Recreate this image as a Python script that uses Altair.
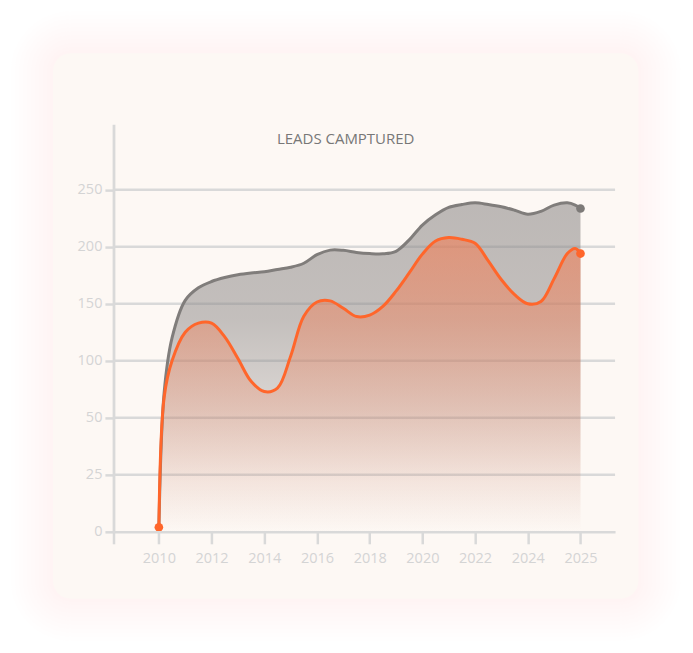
import altair as alt
import pandas as pd

# ---- data ----
x_labels = ["2010", "2012", "2014", "2016", "2018", "2020", "2022", "2024", "2025"]
positions = [0, 0.1, 0.25, 0.5, 0.75, 1, 1.25, 1.5, 1.75, 2, 2.25, 2.5, 2.75, 3, 3.25,
             3.5, 3.75, 4, 4.25, 4.5, 4.75, 5, 5.25, 5.5, 5.75, 6, 6.25, 6.5, 6.75, 7,
             7.25, 7.5, 7.75, 7.9, 8]
gray_values = [1, 72, 120, 153, 164, 169.5, 173, 175.5, 177, 178, 180, 182, 185.5, 193, 197,
               196.8, 195, 194, 193.8, 196, 206, 219, 228, 234.5, 237, 238.5, 237, 235, 232, 228.5,
               231, 236.5, 238.5, 236.5, 233.5]
orange_values = [2, 68, 100, 125, 133, 133, 121, 102, 82, 73, 76, 104, 139, 151.5, 152.5,
                 146, 138.8, 140, 147.6, 161, 177, 193.5, 205, 208, 206.5, 203, 187.5, 171, 158, 150,
                 152, 172, 194, 198.5, 194]
y_ticks = [0, 25, 50, 100, 150, 200, 250]
title_text = "LEADS CAMPTURED"

W, H = 502, 408
FONT = "Open Sans"

rows = []
for p, g, o in zip(positions, gray_values, orange_values):
    rows.append({"pos": p, "value": g, "series": "gray"})
    rows.append({"pos": p, "value": o, "series": "orange"})
df = pd.DataFrame(rows)

ends = pd.DataFrame([
    {"pos": positions[0], "value": orange_values[0], "series": "orange"},
    {"pos": positions[-1], "value": gray_values[-1], "series": "gray"},
    {"pos": positions[-1], "value": orange_values[-1], "series": "orange"},
])
grid_df = pd.DataFrame({"value": y_ticks[1:]})

x_min, x_max = -0.8607, 8.656
xscale = alt.Scale(domain=[x_min, x_max], nice=False, zero=False)
step = 57.07
yscale = alt.Scale(
    domain=y_ticks + [307.4],
    range=[H - i * step for i in range(len(y_ticks))] + [0],
    nice=False, zero=False,
)

label_list = "[" + ",".join("'" + s + "'" for s in x_labels) + "]"
x_axis = alt.Axis(
    values=[x_min] + list(range(len(x_labels))),
    labelExpr=f"datum.value < 0 ? '' : {label_list}[round(datum.value)]",
    title=None, grid=False, tickColor="#d9d9d9", tickWidth=2.5, tickSize=12,
    domainColor="#d9d9d9", domainWidth=2.5, labelColor="#d4d4d4", labelFontSize=14.5,
    labelPadding=8, labelFlush=False, labelOverlap=False, zindex=1, labelFont=FONT,
)
y_axis = alt.Axis(
    values=y_ticks, title=None, grid=False, tickColor="#d9d9d9", tickWidth=2.5, tickSize=8.6,
    domainColor="#d9d9d9", domainWidth=2.8, labelColor="#d4d4d4", labelFontSize=14.5,
    labelPadding=3, zindex=1, labelFont=FONT,
)

X = alt.X("pos:Q", scale=xscale, axis=x_axis)
Y = alt.Y("value:Q", scale=yscale, axis=y_axis)

one = alt.Data(values=[{}])
card = dict(x=-60.6, x2=525.4, y=-71, y2=475)

layers = []
# soft glow around the card
for e in [42, 38, 34, 30, 26, 22, 18, 14, 10, 6, 3]:
    layers.append(
        alt.Chart(one).mark_rect(fill="rgba(245,192,168,0.014)", cornerRadius=18 + e).encode(
            x=alt.value(card["x"] - e), x2=alt.value(card["x2"] + e),
            y=alt.value(card["y"] - e), y2=alt.value(card["y2"] + e),
        )
    )
layers.append(
    alt.Chart(one).mark_rect(fill="#fdf8f4", cornerRadius=18).encode(
        x=alt.value(card["x"]), x2=alt.value(card["x2"]),
        y=alt.value(card["y"]), y2=alt.value(card["y2"]),
    )
)
# gridlines
layers.append(
    alt.Chart(grid_df).mark_rule(color="#d9d9d9", strokeWidth=2.5).encode(
        y=alt.Y("value:Q", scale=yscale, axis=y_axis), x=alt.value(0), x2=alt.value(W)
    )
)

gray_fill = alt.Gradient(
    gradient="linear", x1=0, x2=0, y1=0, y2=1,
    stops=[
        alt.GradientStop(color="rgba(138,134,133,0.56)", offset=0),
        alt.GradientStop(color="rgba(138,134,133,0.50)", offset=0.35),
        alt.GradientStop(color="rgba(138,134,133,0.30)", offset=0.62),
        alt.GradientStop(color="rgba(138,134,133,0.08)", offset=0.85),
        alt.GradientStop(color="rgba(138,134,133,0.0)", offset=1),
    ],
)
orange_fill = alt.Gradient(
    gradient="linear", x1=0, x2=0, y1=0, y2=1,
    stops=[
        alt.GradientStop(color="rgba(244,124,82,0.58)", offset=0),
        alt.GradientStop(color="rgba(244,124,82,0.48)", offset=0.2),
        alt.GradientStop(color="rgba(244,124,82,0.22)", offset=0.6),
        alt.GradientStop(color="rgba(244,124,82,0.04)", offset=0.92),
        alt.GradientStop(color="rgba(244,124,82,0.0)", offset=1),
    ],
)

CURVE = "catmull-rom"
base = alt.Chart(df)
layers.append(base.transform_filter("datum.series == 'gray'").mark_area(
    interpolate=CURVE, fill=gray_fill).encode(x=X, y=Y))
layers.append(base.transform_filter("datum.series == 'orange'").mark_area(
    interpolate=CURVE, fill=orange_fill).encode(x=X, y=Y))
layers.append(base.transform_filter("datum.series == 'gray'").mark_line(
    interpolate=CURVE, color="#807d7b", strokeWidth=3).encode(x=X, y=Y))
layers.append(base.transform_filter("datum.series == 'orange'").mark_line(
    interpolate=CURVE, color="#ff662b", strokeWidth=3).encode(x=X, y=Y))
layers.append(alt.Chart(ends).mark_circle(size=75, opacity=1).encode(
    x=X, y=Y,
    color=alt.Color("series:N", scale=alt.Scale(domain=["gray", "orange"],
                                                range=["#7d7a78", "#ff662b"]), legend=None),
))
layers.append(alt.Chart(one).mark_text(
    text=title_text, font=FONT, fontSize=15, color="#777777",
    align="center", baseline="middle"
).encode(x=alt.value(232.4), y=alt.value(14.7)))

chart = alt.layer(*layers).properties(
    width=W, height=H,
    padding={"left": 105.6, "top": 116, "right": 70, "bottom": 110},
    autosize=alt.AutoSizeParams(type="none"),
).configure(background="white", font=FONT).configure_view(stroke=None)

chart.save("out.html", embed_options={"renderer": "svg", "actions": False})
